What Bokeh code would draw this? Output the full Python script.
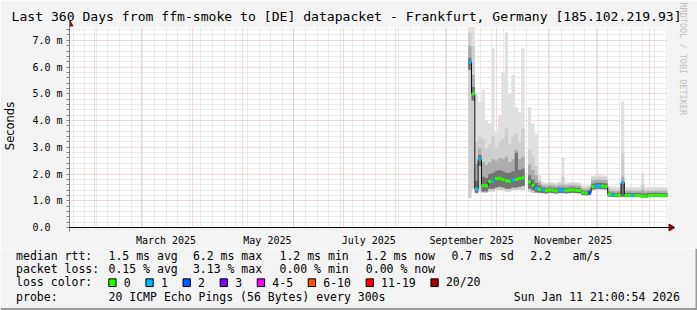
import math
from datetime import datetime, timedelta

from bokeh.plotting import figure
from bokeh.models import (Range1d, LinearAxis, FixedTicker, Grid, Title, Span, BoxAnnotation)
from bokeh.layouts import column
from bokeh.core.properties import value
from bokeh.embed import file_html
from bokeh.resources import INLINE

nan = float("nan")

# ---------------- data ----------------
WINDOW_END = datetime(2026, 1, 11, 21, 0, 54)
WINDOW_DAYS = 360
DATA_DAYS = 120          # data present only during the last 120 days
BIN_DAYS = 2             # one value per 2 days

month_label_dates = [datetime(2025, 3, 16), datetime(2025, 5, 16), datetime(2025, 7, 16),
                     datetime(2025, 9, 16), datetime(2025, 11, 16)]
month_labels = ["March 2025", "May 2025", "July 2025", "September 2025", "November 2025"]

y_ticks = [0, 1, 2, 3, 4, 5, 6, 7]
y_tick_labels = ["0.0\u00a0\u00a0", "1.0 m", "2.0 m", "3.0 m", "4.0 m", "5.0 m", "6.0 m", "7.0 m"]

# median RTT per bin (ms)
median = [6.19, 4.99, 1.45, 2.55, 1.57, 1.56, 1.72, 1.74, 1.82, 1.84,
          1.80, 1.75, 1.73, 1.78, 1.80, 1.83, 1.86, nan, 1.70, 1.58,
          1.47, 1.43, 1.40, 1.38, 1.41, 1.39, 1.37, 1.40, 1.39, 1.38,
          1.40, 1.41, 1.39, 1.38, 1.30, 1.29, 1.31, 1.52, 1.54, 1.55,
          1.54, 1.53, 1.24, 1.22, 1.21, 1.22, 1.68, 1.20, 1.21, 1.20,
          1.20, 1.20, 1.17, 1.17, 1.20, 1.20, 1.21, 1.20, 1.20, 1.20]
# lost pings (of 20) per bin
loss = [1, 0, 1, 1, 0, 0, 0, 1, 0, 0,
        0, 0, 0, 1, 0, 0, 0, 0, 0, 0,
        1, 0, 1, 0, 0, 0, 0, 1, 1, 0,
        0, 0, 0, 0, 0, 0, 2, 0, 1, 1,
        0, 0, 0, 1, 0, 0, 1, 0, 0, 1,
        0, 0, 0, 0, 0, 0, 0, 0, 0, 0]
# smoke: lowest ping
smoke_low = [1.10, 1.45, 1.25, 1.35, 1.30, 1.30, 1.35, 1.35, 1.40, 1.40,
             1.40, 1.35, 1.35, 1.40, 1.40, 1.40, 1.40, nan, 1.35, 1.30,
             1.28, 1.28, 1.27, 1.26, 1.28, 1.27, 1.25, 1.27, 1.27, 1.26,
             1.27, 1.28, 1.27, 1.26, 1.20, 1.19, 1.20, 1.38, 1.40, 1.41,
             1.40, 1.39, 1.14, 1.13, 1.12, 1.13, 1.13, 1.12, 1.13, 1.12,
             1.12, 1.12, 1.10, 1.10, 1.12, 1.12, 1.13, 1.12, 1.12, 1.12]
# smoke: lower edge of the dense pings
smoke_core_low = [5.90, 4.75, 1.30, 2.30, 1.35, 1.35, 1.45, 1.45, 1.50, 1.52,
                  1.50, 1.45, 1.45, 1.50, 1.50, 1.52, 1.55, nan, 1.45, 1.38,
                  1.32, 1.30, 1.29, 1.28, 1.30, 1.29, 1.27, 1.29, 1.29, 1.28,
                  1.29, 1.30, 1.29, 1.28, 1.22, 1.21, 1.22, 1.42, 1.44, 1.45,
                  1.44, 1.43, 1.16, 1.15, 1.14, 1.15, 1.15, 1.14, 1.15, 1.14,
                  1.14, 1.14, 1.12, 1.12, 1.14, 1.14, 1.15, 1.14, 1.14, 1.14]
# smoke: dense core top
smoke_core = [6.35, 5.25, 1.75, 2.72, 1.90, 1.85, 2.00, 2.05, 2.12, 2.15,
              2.10, 2.05, 2.05, 2.10, 2.80, 2.15, 2.20, nan, 1.95, 1.80,
              1.66, 1.58, 1.50, 1.48, 1.51, 1.49, 1.47, 1.50, 1.49, 1.48,
              1.50, 1.51, 1.49, 1.48, 1.38, 1.37, 1.39, 1.64, 1.66, 1.67,
              1.66, 1.65, 1.31, 1.30, 1.29, 1.30, 1.72, 1.29, 1.30, 1.29,
              1.29, 1.29, 1.27, 1.27, 1.29, 1.29, 1.30, 1.29, 1.29, 1.29]
# smoke: middle band top
smoke_mid = [6.80, 5.70, 2.40, 2.95, 2.45, 2.35, 2.45, 2.55, 2.50, 2.60,
             2.55, 2.65, 2.45, 2.55, 2.90, 2.55, 2.65, nan, 2.35, 2.15,
             1.95, 1.70, 1.58, 1.56, 1.59, 1.57, 1.55, 1.58, 1.60, 1.56,
             1.58, 1.59, 1.57, 1.56, 1.45, 1.44, 1.46, 1.76, 1.78, 1.79,
             1.78, 1.77, 1.38, 1.37, 1.36, 1.37, 1.90, 1.36, 1.37, 1.36,
             1.36, 1.36, 1.40, 1.34, 1.36, 1.36, 1.37, 1.36, 1.36, 1.36]
# smoke: light band top
smoke_light = [7.30, 6.80, 3.20, 3.40, 3.30, 2.95, 3.10, 3.40, 3.00, 3.20,
               3.30, 3.70, 3.10, 3.40, 3.50, 3.20, 3.70, nan, 2.90, 2.70,
               2.30, 1.80, 1.64, 1.63, 1.66, 1.64, 1.62, 1.66, 1.90, 1.63,
               1.65, 1.66, 1.64, 1.63, 1.52, 1.51, 1.53, 1.86, 1.88, 1.89,
               1.88, 1.87, 1.45, 1.44, 1.43, 1.44, 2.80, 1.43, 1.44, 1.43,
               1.43, 1.43, 1.60, 1.41, 1.43, 1.43, 1.44, 1.43, 1.43, 1.43]
# smoke: highest ping
smoke_max = [7.50, 7.50, 5.05, 4.70, 5.15, 4.00, 3.90, 6.70, 3.60, 4.20,
             5.80, 7.30, 5.00, 5.70, 4.50, 4.30, 6.70, nan, 4.50, 3.90,
             3.50, 1.95, 1.70, 1.68, 1.72, 1.70, 1.67, 1.72, 2.60, 1.68,
             1.70, 1.71, 1.69, 1.68, 1.58, 1.57, 1.59, 1.94, 1.95, 1.96,
             1.94, 1.93, 1.54, 1.53, 1.52, 1.53, 4.70, 1.52, 1.53, 1.52,
             1.52, 1.52, 2.05, 1.50, 1.52, 1.52, 1.53, 1.52, 1.52, 1.52]

loss_legend_labels = ["0", "1", "2", "3", "4-5", "6-10", "11-19", "20/20"]
loss_legend_colors = ["#26ff00", "#00b8ff", "#0059ff", "#7e00ff", "#ff00ff", "#ff5500", "#ff0000", "#a10000"]
loss_color_by_count = {0: "#26ff00", 1: "#00b8ff", 2: "#0059ff", 3: "#7e00ff"}

title_text = "Last 360 Days from ffm-smoke to [DE] datapacket - Frankfurt, Germany [185.102.219.93]"
stat_rows = [
    ["median rtt:", "1.5 ms avg", "6.2 ms max", "1.2 ms min", "1.2 ms now", "0.7 ms sd", "2.2", "am/s"],
    ["packet loss:", "0.15 % avg", "3.13 % max", "0.00 % min", "0.00 % now"],
]
probe_text = "20 ICMP Echo Pings (56 Bytes) every 300s"
date_text = "Sun Jan 11 21:00:54 2026"

# ---------------- helpers ----------------
EPOCH = datetime(1970, 1, 1)


def ms(dt):
    return int(round((dt - EPOCH).total_seconds() * 1000))


W_START = WINDOW_END - timedelta(days=WINDOW_DAYS)
D_START = WINDOW_END - timedelta(days=DATA_DAYS)
x0, x1 = ms(W_START), ms(WINDOW_END)
Y_TOP = 7.48
MS_PX = (x1 - x0) / 600.0     # 600 px for the 360-day window
M_PX = Y_TOP / 201.0          # 201 px for 0 .. Y_TOP

nb = len(median)
left = [ms(D_START + timedelta(days=BIN_DAYS * i)) for i in range(nb)]
right = [ms(D_START + timedelta(days=BIN_DAYS * (i + 1))) for i in range(nb)]


def finite_runs(arr):
    out, cur = [], []
    for i, v in enumerate(arr):
        if isinstance(v, float) and math.isnan(v):
            if cur:
                out.append(cur)
                cur = []
        else:
            cur.append(i)
    if cur:
        out.append(cur)
    return out


def step(idx, arr):
    xs, ys = [], []
    for i in idx:
        xs += [left[i], right[i]]
        ys += [arr[i], arr[i]]
    return xs, ys


# ---------------- main chart ----------------
BG = "#f3f3f3"
MONO = "DejaVu Sans Mono"

p = figure(width=697, height=248,
           x_range=Range1d(x0, x1 + 7 * MS_PX), y_range=Range1d(-4 * M_PX, Y_TOP + 7 * M_PX),
           x_axis_type=None, y_axis_type=None, output_backend="svg", toolbar_location=None,
           title=None,
           min_border_left=67, min_border_right=23, min_border_top=20, min_border_bottom=16,
           background_fill_color=BG, border_fill_color=BG, outline_line_color=None)
p.frame_align = False

# white canvas of the graph
p.add_layout(BoxAnnotation(left=x0, right=x1, bottom=0, top=Y_TOP, fill_color="white",
                           fill_alpha=1.0, line_color=None, level="underlay"))

# grids
month_starts = []
d = datetime(W_START.year, W_START.month, 1)
while d <= WINDOW_END:
    if d >= W_START:
        month_starts.append(ms(d))
    d = datetime(d.year + (d.month == 12), d.month % 12 + 1, 1)
sundays = []
d = datetime(W_START.year, W_START.month, W_START.day) + timedelta(days=1)
while d.weekday() != 6:
    d += timedelta(days=1)
while d <= WINDOW_END:
    sundays.append(ms(d))
    d += timedelta(days=7)

xgrid = Grid(dimension=0, ticker=FixedTicker(ticks=month_starts, minor_ticks=sundays),
             cross_bounds=(0, Y_TOP),
             grid_line_color="#eeb0b0", grid_line_dash="1 1",
             minor_grid_line_color="#d8d8d8", minor_grid_line_dash="1 1")
y_minor = [round(0.2 * k, 1) for k in range(1, 38) if k % 5]
ygrid = Grid(dimension=1, ticker=FixedTicker(ticks=y_ticks[1:], minor_ticks=y_minor),
             cross_bounds=(x0, x1),
             grid_line_color="#eeb0b0", grid_line_dash="1 1",
             minor_grid_line_color="#d8d8d8", minor_grid_line_dash="1 1")
p.add_layout(xgrid)
p.add_layout(ygrid)

# smoke
for run in finite_runs(smoke_low):
    xs, lows = step(run, smoke_low)
    _, clows = step(run, smoke_core_low)
    for lo, arr, col in [(lows, smoke_max, "#e0e0e0"), (lows, smoke_light, "#cecece"),
                         (clows, smoke_mid, "#acacac"), (clows, smoke_core, "#747474")]:
        _, tops = step(run, arr)
        p.varea(x=xs, y1=lo, y2=tops, fill_color=col)

# median line
for run in finite_runs(median):
    xs, ys = step(run, median)
    p.line(xs, ys, line_color="#111111", line_width=1)

ok = [i for i in range(nb) if not math.isnan(median[i])]
p.segment(x0=[left[i] for i in ok], x1=[right[i] for i in ok],
          y0=[median[i] for i in ok], y1=[median[i] for i in ok],
          line_color=[loss_color_by_count[loss[i]] for i in ok], line_width=3)

# axes
xaxis = LinearAxis(ticker=FixedTicker(ticks=[ms(t) for t in month_label_dates]),
                   major_label_overrides={ms(t): s for t, s in zip(month_label_dates, month_labels)},
                   axis_line_color=None, major_tick_line_color=None, minor_tick_line_color=None,
                   major_tick_out=0, major_tick_in=0, major_label_standoff=3,
                   major_label_text_font=MONO, major_label_text_font_size="10px",
                   major_label_text_color="black")
p.add_layout(xaxis, "below")
p.add_layout(Span(location=0, dimension="width", line_color="black", line_width=1))

yaxis = LinearAxis(ticker=FixedTicker(ticks=y_ticks, minor_ticks=y_minor),
                   major_label_overrides=dict(zip(y_ticks, y_tick_labels)),
                   axis_line_color="#808080", major_tick_line_color="#808080",
                   minor_tick_line_color="#808080",
                   major_tick_out=3, major_tick_in=0, minor_tick_out=3, minor_tick_in=0,
                   major_label_standoff=4, major_label_text_font=MONO,
                   major_label_text_font_size="10px", major_label_text_color="black",
                   axis_label="Seconds", axis_label_text_font="DejaVu Sans",
                   axis_label_text_font_size="11.5px", axis_label_text_font_style="normal",
                   axis_label_text_color="black", axis_label_standoff=12)
p.add_layout(yaxis, "left")

# axis arrow heads
p.scatter(x=[x0], y=[Y_TOP + 3.5 * M_PX], marker="triangle", size=7,
          fill_color="#a00000", line_color="#a00000")
p.scatter(x=[x1 + 3.5 * MS_PX], y=[0], marker="triangle", angle=-math.pi / 2, size=7,
          fill_color="#a00000", line_color="#a00000")

# title and watermark
p.add_layout(Title(text=title_text, align="left", vertical_align="bottom", offset=-58, standoff=-7,
                   text_font=MONO, text_font_size="13.1px", text_font_style="normal",
                   text_color="black"), "above")
p.add_layout(Title(text="RRDTOOL / TOBI OETIKER", align="left", vertical_align="bottom",
                   offset=-18, standoff=7, text_font=MONO, text_font_size="8.5px",
                   text_font_style="normal", text_color="#c0c0c0"), "right")

# ---------------- legend / statistics block ----------------
leg = figure(width=697, height=62, x_range=Range1d(0, 697), y_range=Range1d(310, 248),
             x_axis_type=None, y_axis_type=None, output_backend="svg", toolbar_location=None,
             title=None,
             min_border=0, background_fill_color=BG, border_fill_color=BG, outline_line_color=None)
leg.frame_align = False

col_x = [15.6, 108, 192.4, 279, 365.3, 451, 529.8, 572]
row_y = [255, 268.3, 281.7, 296]
tx, ty, tt = [], [], []
for r, row in enumerate(stat_rows):
    for c, s in enumerate(row):
        tx.append(col_x[c]); ty.append(row_y[r]); tt.append(s)
tx += [15.6, 15.6, 108, 513.3]
ty += [row_y[2], row_y[3], row_y[3], row_y[3]]
tt += ["loss color:", "probe:", probe_text, date_text]

CH = 6.92
bx = 108.3
box_x, lab_x = [], []
for lab in loss_legend_labels:
    box_x.append(bx + 3.65)
    lab_x.append(bx + 15)
    bx = bx + 15 + CH * len(lab) + 15.2
tx += lab_x
ty += [row_y[2]] * len(lab_x)
tt += loss_legend_labels

leg.text(x=tx, y=ty, text=tt, text_font=value(MONO), text_font_size="11.5px",
         text_color="black", text_baseline="middle", text_align="left")
leg.rect(x=box_x, y=[282.2] * len(box_x), width=7.3, height=7.7,
         fill_color=loss_legend_colors, line_color="black", line_width=1)
leg.line([0, 697], [308.5, 308.5], line_color="#9a9a9a", line_width=2)
leg.line([696, 696], [248, 310], line_color="#9a9a9a", line_width=2)

layout = column(p, leg, spacing=0)
open("out.html", "w").write(file_html(layout, INLINE))
